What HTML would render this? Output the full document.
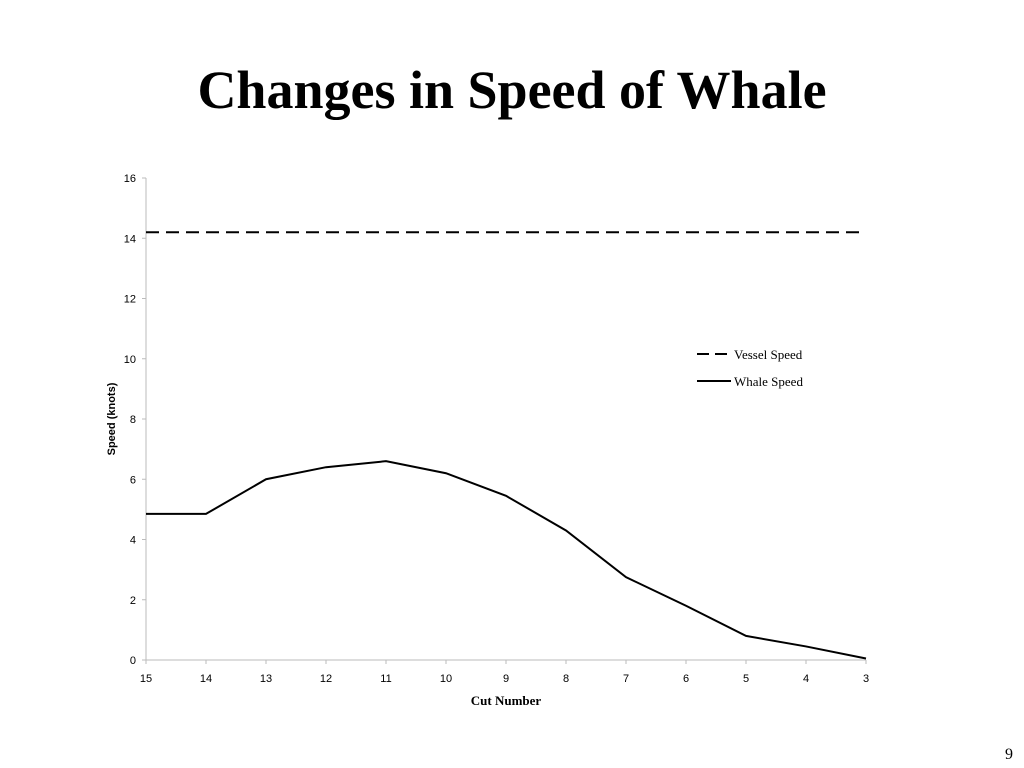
<!DOCTYPE html>
<html><head><meta charset="utf-8"><style>
html,body{margin:0;padding:0;background:#fff;width:1024px;height:768px;overflow:hidden}
svg{display:block}
</style></head><body>
<svg id="chart" width="1024" height="768" xmlns="http://www.w3.org/2000/svg">
<text x="512" y="108" text-anchor="middle" font-family="Liberation Serif, serif" font-weight="bold" font-size="54">Changes in Speed of Whale</text>
<g id="axes"></g>
<g id="marks"></g>
<text x="115" y="419" transform="rotate(-90 115 419)" text-anchor="middle" font-family="Liberation Sans, sans-serif" font-weight="bold" font-size="11">Speed (knots)</text>
<text x="506" y="705" text-anchor="middle" font-family="Liberation Serif, serif" font-weight="bold" font-size="13">Cut Number</text>
<g>
<g>
<line x1="697" y1="354" x2="731" y2="354" stroke="#000" stroke-width="2" stroke-dasharray="12,6"/>
<text x="734" y="359" font-family="Liberation Serif, serif" font-size="13">Vessel Speed</text></g>
<g>
<line x1="697" y1="381" x2="731" y2="381" stroke="#000" stroke-width="2"/>
<text x="734" y="386" font-family="Liberation Serif, serif" font-size="13">Whale Speed</text></g>
</g>
<text x="1009" y="759" text-anchor="middle" font-family="Liberation Serif, serif" font-size="16">9</text>
</svg>
<script>
const categories = [15,14,13,12,11,10,9,8,7,6,5,4,3];
const whaleSpeed = [4.85,4.85,6.0,6.4,6.6,6.2,5.45,4.3,2.75,1.8,0.8,0.45,0.05];
const vesselSpeed = [14.2,14.2,14.2,14.2,14.2,14.2,14.2,14.2,14.2,14.2,14.2,14.2,14.2];
const yTicks = [0,2,4,6,8,10,12,14,16];
const NS="http://www.w3.org/2000/svg";
const x0=146,x1=866,yb=660,yt=178,ymax=16;
const xs=i=>x0+(x1-x0)*i/(categories.length-1);
const ys=v=>yb-(yb-yt)*v/ymax;
function mk(t,a,p){const e=document.createElementNS(NS,t);for(const k in a)e.setAttribute(k,a[k]);p.appendChild(e);return e;}
const ax=document.getElementById('axes'),mg=document.getElementById('marks');
let l=mk('line',{x1:x0,y1:yt,x2:x0,y2:yb,stroke:'#bbb','stroke-width':1},ax);


l=mk('line',{x1:x0,y1:yb,x2:x1,y2:yb,stroke:'#bbb','stroke-width':1},ax);


yTicks.forEach(v=>{
 mk('line',{x1:x0-4,y1:ys(v),x2:x0,y2:ys(v),stroke:'#bbb'},ax);
 const t=mk('text',{x:x0-10,y:ys(v)+4,'text-anchor':'end','font-family':'Liberation Sans, sans-serif','font-size':11},ax);
 t.textContent=v;
 
 
});
categories.forEach((c,i)=>{
 mk('line',{x1:xs(i),y1:yb,x2:xs(i),y2:yb+4,stroke:'#bbb'},ax);
 const t=mk('text',{x:xs(i),y:yb+22,'text-anchor':'middle','font-family':'Liberation Sans, sans-serif','font-size':11},ax);
 t.textContent=c;
 
 
});
const pts=a=>a.map((v,i)=>xs(i)+','+ys(v)).join(' ');
const pv=mk('polyline',{points:pts(vesselSpeed),fill:'none',stroke:'#000','stroke-width':2,'stroke-dasharray':'13,7'},mg);


const pw=mk('polyline',{points:pts(whaleSpeed),fill:'none',stroke:'#000','stroke-width':2},mg);


</script>
</body></html>
